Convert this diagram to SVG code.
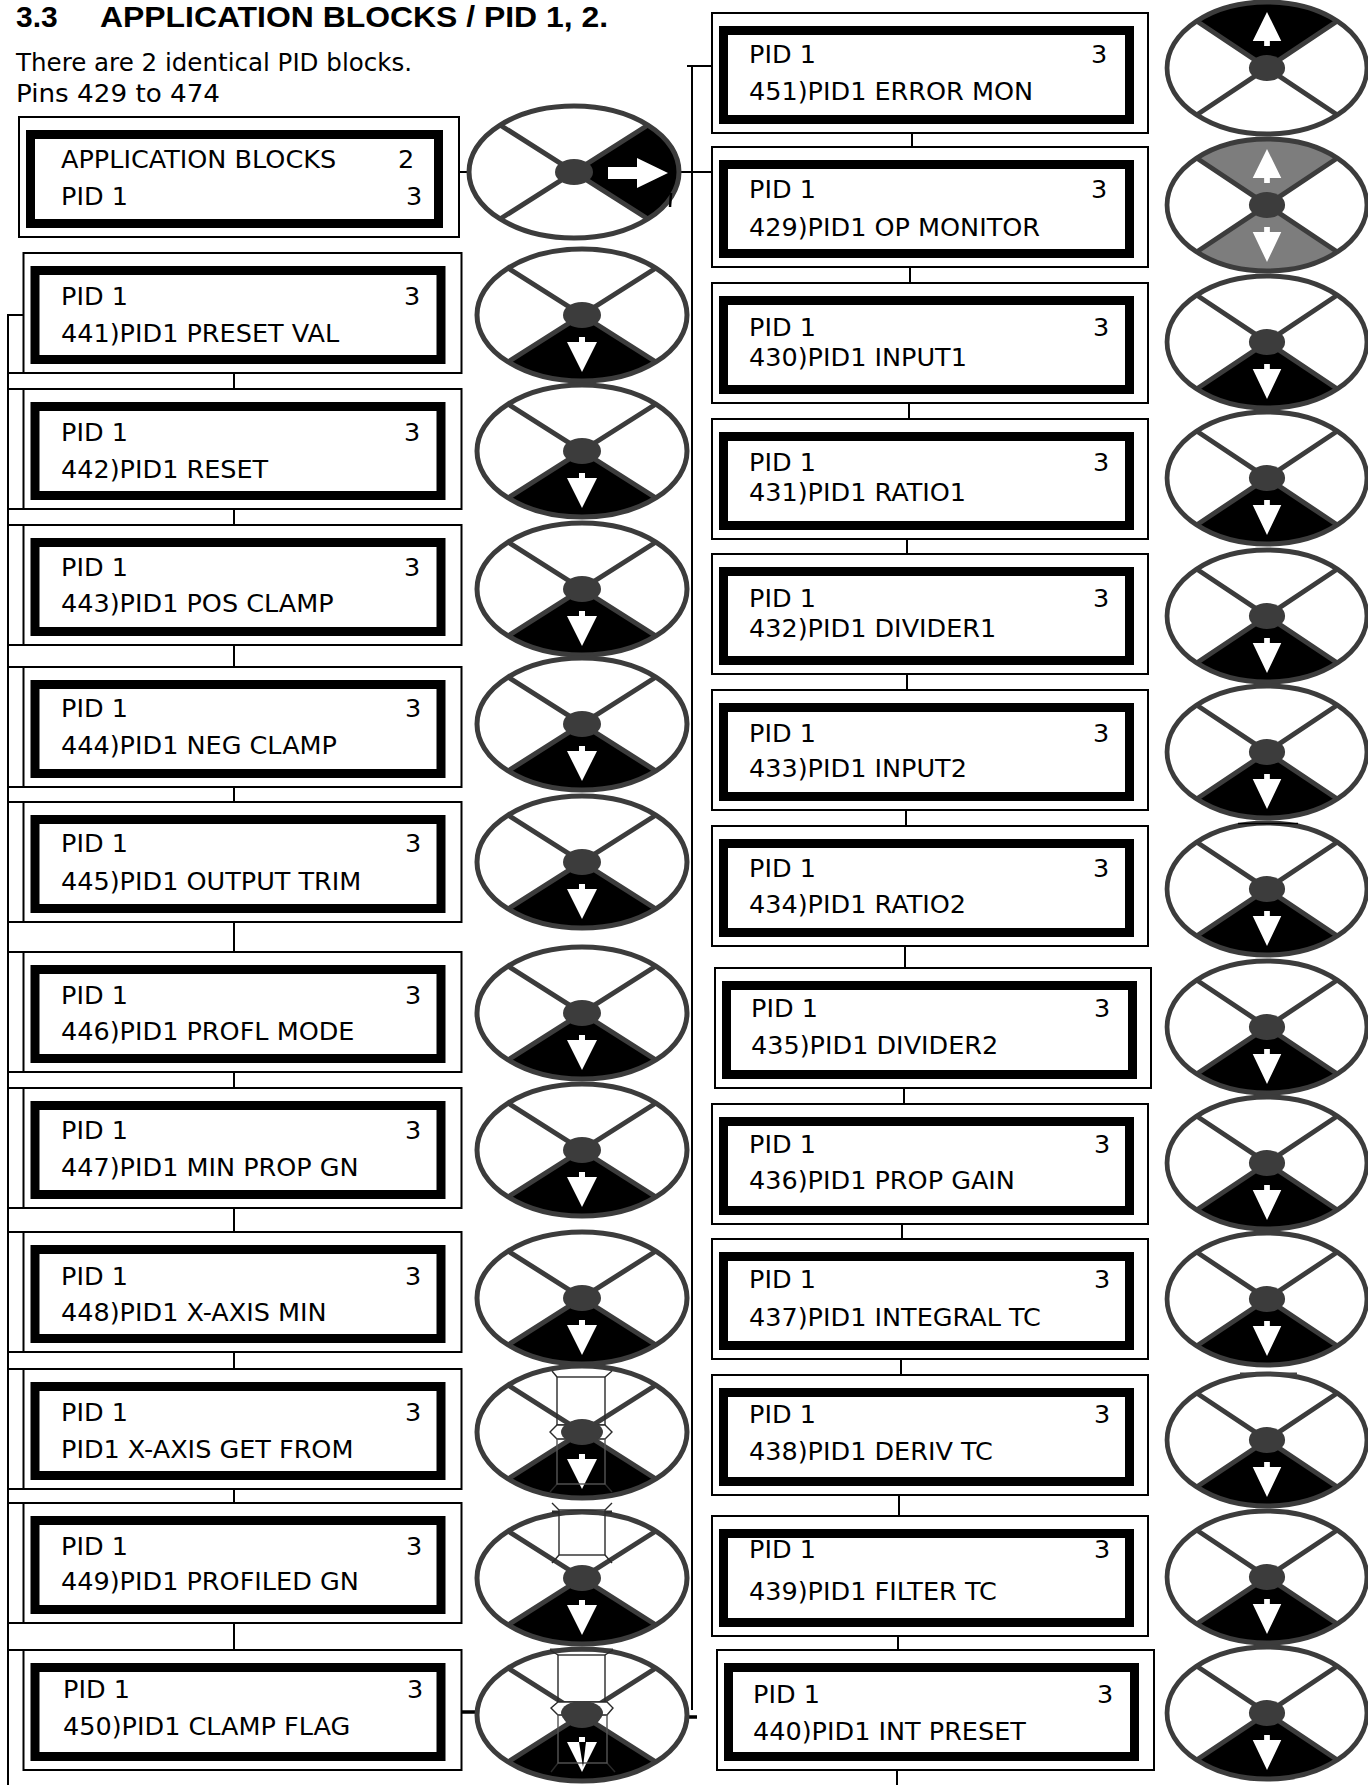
<svg xmlns="http://www.w3.org/2000/svg" width="1368" height="1785" viewBox="0 0 1368 1785">
<style>
.o{fill:#fff;stroke:#000;stroke-width:2}
.i{fill:#fff;stroke:#000;stroke-width:9}
.t{font-family:"DejaVu Sans","Noto Sans",sans-serif;font-size:25.5px;fill:#000}
.s{font-family:"DejaVu Sans","Noto Sans",sans-serif;font-size:25px;fill:#000}
.h{font-family:"Liberation Sans",Arial,sans-serif;font-size:30px;font-weight:bold;fill:#000}
.c{stroke:#000;stroke-width:2;fill:none}
.ring{fill:none;stroke:#3c3c3c;stroke-width:5}
.sp{stroke:#3c3c3c;stroke-width:5;fill:none}
.dot{fill:#3c3c3c}
.ov{fill:none;stroke:#2a2a2a;stroke-width:1.4}
</style>
<defs>
<g id="kd">
<ellipse rx="105" ry="66" fill="#fff"/>
<path d="M0,0 L74,47 A105,66 0 0 1 -74,47 Z" fill="#000"/>
<path d="M-74,-47 L74,47 M74,-47 L-74,47" class="sp"/>
<ellipse rx="105" ry="66" class="ring"/>
<ellipse rx="19" ry="13" class="dot"/>
<path d="M-3,22 h6 v5 h12 L0,57 L-15,27 h12 Z" fill="#fff"/>
</g>
<g id="ku">
<ellipse rx="105" ry="66" fill="#fff"/>
<path d="M0,0 L-74,-47 A105,66 0 0 1 74,-47 Z" fill="#000"/>
<path d="M-74,-47 L74,47 M74,-47 L-74,47" class="sp"/>
<ellipse rx="105" ry="66" class="ring"/>
<ellipse rx="19" ry="13" class="dot"/>
<path d="M-3,-22 h6 v-5 h12 L0,-56 L-15,-27 h12 Z" fill="#fff"/>
</g>
<g id="kg">
<ellipse rx="105" ry="66" fill="#fff"/>
<path d="M0,0 L-74,-47 A105,66 0 0 1 74,-47 Z" fill="#7d7d7d"/>
<path d="M0,0 L74,47 A105,66 0 0 1 -74,47 Z" fill="#7d7d7d"/>
<path d="M-74,-47 L74,47 M74,-47 L-74,47" class="sp"/>
<ellipse rx="105" ry="66" class="ring"/>
<ellipse rx="19" ry="13" class="dot"/>
<path d="M-3,-22 h6 v-5 h12 L0,-56 L-15,-27 h12 Z" fill="#fff"/>
<path d="M-3,22 h6 v5 h12 L0,57 L-15,27 h12 Z" fill="#fff"/>
</g>
<g id="kr">
<ellipse rx="105" ry="66" fill="#fff"/>
<path d="M0,0 L74,-47 A105,66 0 0 1 74,47 Z" fill="#000"/>
<path d="M-74,-47 L74,47 M74,-47 L-74,47" class="sp"/>
<ellipse rx="105" ry="66" class="ring"/>
<ellipse rx="19" ry="13" class="dot"/>
<path d="M34,-5 H63 V-14 L94,1 L63,16 V7 H34 Z" fill="#fff"/>
</g>
</defs>
<rect width="1368" height="1785" fill="#fff"/>

<g id="title">
<text class="h" x="16" y="27">3.3</text>
<text class="h" x="100" y="27" textLength="508" lengthAdjust="spacingAndGlyphs">APPLICATION BLOCKS / PID 1, 2.</text>
<text class="s" x="16" y="71" textLength="396" lengthAdjust="spacingAndGlyphs">There are 2 identical PID blocks.</text>
<text class="s" x="16" y="102" textLength="204" lengthAdjust="spacingAndGlyphs">Pins 429 to 474</text>
</g>

<g id="connectors" class="c">
<path d="M459,172 H470 M678,172 H712"/>
<path d="M687,66 H712 M692,66 V1710"/>
<path d="M8,315 H23.5 M8,314 V1785"/>
<path d="M8,373 H23.5 M8,389 H23.5 M8,509 H23.5 M8,525 H23.5 M8,645 H23.5 M8,667 H23.5 M8,787 H23.5 M8,802 H23.5 M8,922 H23.5 M8,952 H23.5 M8,1072 H23.5 M8,1088 H23.5 M8,1208 H23.5 M8,1232 H23.5 M8,1352 H23.5 M8,1369 H23.5 M8,1489 H23.5 M8,1503 H23.5 M8,1623 H23.5 M8,1650 H23.5"/>
<path d="M234,373 V389 M234,509 V525 M234,645 V667 M234,787 V802 M234,922 V952 M234,1072 V1088 M234,1208 V1232 M234,1352 V1369 M234,1489 V1503 M234,1623 V1650"/>
<path d="M912,133 V147 M910,267 V283 M909,403 V419 M907,539 V554 M907,674 V690 M906,810 V826 M905,946 V968 M904,1088 V1104 M902,1224 V1239 M901,1359 V1375 M899,1495 V1516 M898,1636 V1656 M897,1770 V1785"/>
<path d="M462,1712 H494 M674,1717 H697" stroke-width="3.5"/>
</g>

<g id="nA"><rect class="o" x="19" y="117" width="440" height="120"/><rect class="i" x="30.5" y="134.5" width="408" height="89"/><text class="t" x="61" y="168">APPLICATION BLOCKS</text><text class="t" x="398" y="168">2</text><text class="t" x="61" y="205">PID 1</text><text class="t" x="406" y="205">3</text></g>

<g id="n441"><rect class="o" x="23.5" y="253" width="438" height="120"/><rect class="i" x="35" y="270.5" width="406" height="89"/><text class="t" x="61" y="305">PID 1</text><text class="t" x="404" y="305">3</text><text class="t" x="61" y="342">441)PID1 PRESET VAL</text></g>
<g id="n442"><rect class="o" x="23.5" y="389" width="438" height="120"/><rect class="i" x="35" y="406.5" width="406" height="89"/><text class="t" x="61" y="441">PID 1</text><text class="t" x="404" y="441">3</text><text class="t" x="61" y="478">442)PID1 RESET</text></g>
<g id="n443"><rect class="o" x="23.5" y="525" width="438" height="120"/><rect class="i" x="35" y="542.5" width="406" height="89"/><text class="t" x="61" y="576">PID 1</text><text class="t" x="404" y="576">3</text><text class="t" x="61" y="612">443)PID1 POS CLAMP</text></g>
<g id="n444"><rect class="o" x="23.5" y="667" width="438" height="120"/><rect class="i" x="35" y="684.5" width="406" height="89"/><text class="t" x="61" y="717">PID 1</text><text class="t" x="405" y="717">3</text><text class="t" x="61" y="754">444)PID1 NEG CLAMP</text></g>
<g id="n445"><rect class="o" x="23.5" y="802" width="438" height="120"/><rect class="i" x="35" y="819.5" width="406" height="89"/><text class="t" x="61" y="852">PID 1</text><text class="t" x="405" y="852">3</text><text class="t" x="61" y="890">445)PID1 OUTPUT TRIM</text></g>
<g id="n446"><rect class="o" x="23.5" y="952" width="438" height="120"/><rect class="i" x="35" y="969.5" width="406" height="89"/><text class="t" x="61" y="1004">PID 1</text><text class="t" x="405" y="1004">3</text><text class="t" x="61" y="1040">446)PID1 PROFL MODE</text></g>
<g id="n447"><rect class="o" x="23.5" y="1088" width="438" height="120"/><rect class="i" x="35" y="1105.5" width="406" height="89"/><text class="t" x="61" y="1139">PID 1</text><text class="t" x="405" y="1139">3</text><text class="t" x="61" y="1176">447)PID1 MIN PROP GN</text></g>
<g id="n448"><rect class="o" x="23.5" y="1232" width="438" height="120"/><rect class="i" x="35" y="1249.5" width="406" height="89"/><text class="t" x="61" y="1285">PID 1</text><text class="t" x="405" y="1285">3</text><text class="t" x="61" y="1321">448)PID1 X-AXIS MIN</text></g>
<g id="nXAX"><rect class="o" x="23.5" y="1369" width="438" height="120"/><rect class="i" x="35" y="1386.5" width="406" height="89"/><text class="t" x="61" y="1421">PID 1</text><text class="t" x="405" y="1421">3</text><text class="t" x="61" y="1458">PID1 X-AXIS GET FROM</text></g>
<g id="n449"><rect class="o" x="23.5" y="1503" width="438" height="120"/><rect class="i" x="35" y="1520.5" width="406" height="89"/><text class="t" x="61" y="1555">PID 1</text><text class="t" x="406" y="1555">3</text><text class="t" x="61" y="1590">449)PID1 PROFILED GN</text></g>
<g id="n450"><rect class="o" x="23.5" y="1650" width="438" height="120"/><rect class="i" x="35" y="1667.5" width="406" height="89"/><text class="t" x="63" y="1698">PID 1</text><text class="t" x="407" y="1698">3</text><text class="t" x="63" y="1735">450)PID1 CLAMP FLAG</text></g>

<g id="n451"><rect class="o" x="712" y="13" width="436" height="120"/><rect class="i" x="723.5" y="30.5" width="406" height="89"/><text class="t" x="749" y="63">PID 1</text><text class="t" x="1091" y="63">3</text><text class="t" x="749" y="100">451)PID1 ERROR MON</text></g>
<g id="n429"><rect class="o" x="712" y="147" width="436" height="120"/><rect class="i" x="723.5" y="164.5" width="406" height="89"/><text class="t" x="749" y="198">PID 1</text><text class="t" x="1091" y="198">3</text><text class="t" x="749" y="236">429)PID1 OP MONITOR</text></g>
<g id="n430"><rect class="o" x="712" y="283" width="436" height="120"/><rect class="i" x="723.5" y="300.5" width="406" height="89"/><text class="t" x="749" y="336">PID 1</text><text class="t" x="1093" y="336">3</text><text class="t" x="749" y="366">430)PID1 INPUT1</text></g>
<g id="n431"><rect class="o" x="712" y="419" width="436" height="120"/><rect class="i" x="723.5" y="436.5" width="406" height="89"/><text class="t" x="749" y="471">PID 1</text><text class="t" x="1093" y="471">3</text><text class="t" x="749" y="501">431)PID1 RATIO1</text></g>
<g id="n432"><rect class="o" x="712" y="554" width="436" height="120"/><rect class="i" x="723.5" y="571.5" width="406" height="89"/><text class="t" x="749" y="607">PID 1</text><text class="t" x="1093" y="607">3</text><text class="t" x="749" y="637">432)PID1 DIVIDER1</text></g>
<g id="n433"><rect class="o" x="712" y="690" width="436" height="120"/><rect class="i" x="723.5" y="707.5" width="406" height="89"/><text class="t" x="749" y="742">PID 1</text><text class="t" x="1093" y="742">3</text><text class="t" x="749" y="777">433)PID1 INPUT2</text></g>
<g id="n434"><rect class="o" x="712" y="826" width="436" height="120"/><rect class="i" x="723.5" y="843.5" width="406" height="89"/><text class="t" x="749" y="877">PID 1</text><text class="t" x="1093" y="877">3</text><text class="t" x="749" y="913">434)PID1 RATIO2</text></g>
<g id="n435"><rect class="o" x="715" y="968" width="436" height="120"/><rect class="i" x="726.5" y="985.5" width="406" height="89"/><text class="t" x="751" y="1017">PID 1</text><text class="t" x="1094" y="1017">3</text><text class="t" x="751" y="1054">435)PID1 DIVIDER2</text></g>
<g id="n436"><rect class="o" x="712" y="1104" width="436" height="120"/><rect class="i" x="723.5" y="1121.5" width="406" height="89"/><text class="t" x="749" y="1153">PID 1</text><text class="t" x="1094" y="1153">3</text><text class="t" x="749" y="1189">436)PID1 PROP GAIN</text></g>
<g id="n437"><rect class="o" x="712" y="1239" width="436" height="120"/><rect class="i" x="723.5" y="1256.5" width="406" height="89"/><text class="t" x="749" y="1288">PID 1</text><text class="t" x="1094" y="1288">3</text><text class="t" x="749" y="1326">437)PID1 INTEGRAL TC</text></g>
<g id="n438"><rect class="o" x="712" y="1375" width="436" height="120"/><rect class="i" x="723.5" y="1392.5" width="406" height="89"/><text class="t" x="749" y="1423">PID 1</text><text class="t" x="1094" y="1423">3</text><text class="t" x="749" y="1460">438)PID1 DERIV TC</text></g>
<g id="n439"><rect class="o" x="712" y="1516" width="436" height="120"/><rect class="i" x="723.5" y="1533.5" width="406" height="89"/><text class="t" x="749" y="1558">PID 1</text><text class="t" x="1094" y="1558">3</text><text class="t" x="749" y="1600">439)PID1 FILTER TC</text></g>
<g id="n440"><rect class="o" x="717" y="1650" width="437" height="120"/><rect class="i" x="728.5" y="1667.5" width="406" height="89"/><text class="t" x="753" y="1703">PID 1</text><text class="t" x="1097" y="1703">3</text><text class="t" x="753" y="1740">440)PID1 INT PRESET</text></g>

<g id="keysLeft">
<g id="k0"><use href="#kr" transform="translate(574,172)"/><path d="M671,193 L670,207" stroke="#000" stroke-width="2.5"/></g>
<use id="k441" href="#kd" transform="translate(582,315)"/>
<use id="k442" href="#kd" transform="translate(582,451)"/>
<use id="k443" href="#kd" transform="translate(582,589)"/>
<use id="k444" href="#kd" transform="translate(582,724)"/>
<use id="k445" href="#kd" transform="translate(582,862)"/>
<use id="k446" href="#kd" transform="translate(582,1013)"/>
<use id="k447" href="#kd" transform="translate(582,1150)"/>
<use id="k448" href="#kd" transform="translate(582,1298)"/>
<g id="kXAX" transform="translate(582,1432)">
<use href="#kd"/>
<g class="ov">
<rect x="-25" y="-55" width="48" height="48"/>
<path d="M-30,-61 L-25,-55 M30,-61 L23,-55 M-25,52 L-32,60 M23,52 L30,60"/>
<path d="M-32,0 L-25,-7 H23 L30,0 L23,7 H-25 Z" fill="#fff"/>
<rect x="-25" y="7" width="48" height="45" stroke="#555"/>
</g>
<ellipse rx="21" ry="12" class="dot"/>
</g>
<g id="k449" transform="translate(582,1578)">
<use href="#kd"/>
<g class="ov">
<rect x="-23" y="-68" width="46" height="45"/>
<path d="M-30,-75 L-23,-68 M30,-75 L23,-68 M-23,-23 L-30,-15 M23,-23 L30,-15"/>
<path d="M-30,-66 H-23 M23,-66 H30" stroke-width="3"/>
</g>
</g>
<g id="k450" transform="translate(582,1715)">
<use href="#kd"/>
<g class="ov">
<path d="M-32,-65 H31" stroke="#3c3c3c" stroke-width="3"/>
<rect x="-24" y="-60" width="47" height="47"/>
<path d="M-32,-65 L-24,-60 M31,-65 L23,-60 M-24,48 L-31,57 M25,48 L33,57"/>
<path d="M-31,-7 L-24,-13 H25 L31,-7 L25,0 H-24 Z" fill="#fff"/>
<rect x="-24" y="0" width="49" height="48" stroke="#555"/>
</g>
<ellipse cy="-2" rx="21" ry="12" class="dot"/>
<path d="M-3,27 L4,27 L1,52 Z" fill="#000"/>
</g>
</g>

<g id="keysRight">
<use id="k451" href="#ku" transform="translate(1267,68) scale(0.952,1)"/>
<use id="k429" href="#kg" transform="translate(1267,205) scale(0.952,1)"/>
<use id="k430" href="#kd" transform="translate(1267,342) scale(0.952,1)"/>
<use id="k431" href="#kd" transform="translate(1267,478) scale(0.952,1)"/>
<use id="k432" href="#kd" transform="translate(1267,616) scale(0.952,1)"/>
<use id="k433" href="#kd" transform="translate(1267,752) scale(0.952,1)"/>
<g id="k434"><use href="#kd" transform="translate(1267,889) scale(0.952,1)"/><path d="M1238,823.5 H1298" stroke="#000" stroke-width="1.5"/></g>
<use id="k435" href="#kd" transform="translate(1267,1027) scale(0.952,1)"/>
<use id="k436" href="#kd" transform="translate(1267,1163) scale(0.952,1)"/>
<use id="k437" href="#kd" transform="translate(1267,1299) scale(0.952,1)"/>
<g id="k438"><use href="#kd" transform="translate(1267,1440) scale(0.952,1)"/><path d="M1240,1374 H1297" stroke="#444" stroke-width="3"/></g>
<use id="k439" href="#kd" transform="translate(1267,1577) scale(0.952,1)"/>
<use id="k440" href="#kd" transform="translate(1267,1713) scale(0.952,1)"/>
</g>
</svg>
